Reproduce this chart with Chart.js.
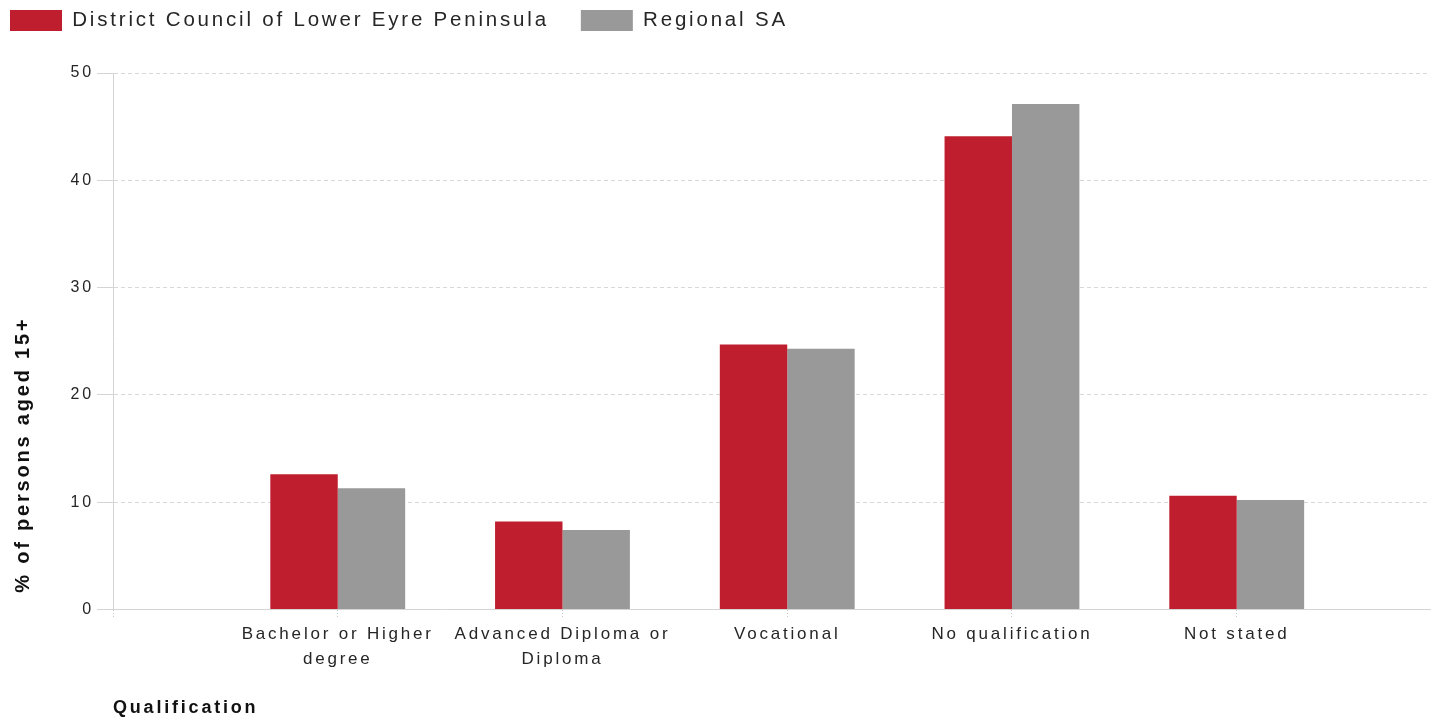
<!DOCTYPE html>
<html>
<head>
<meta charset="utf-8">
<script src="https://cdn.jsdelivr.net/npm/chart.js@4"></script>
<style>
  html, body { margin: 0; padding: 0; background: #fff; }
  #wrap { width: 1441px; height: 722px; position: relative; }
</style>
</head>
<body>
<div id="wrap"><canvas id="qualChart"></canvas></div>
<script>
// categories sit at positions 1..5 on the x axis, position 0 is left empty
const categories = [
    ['Bachelor or Higher', 'degree'],
    ['Advanced Diploma or', 'Diploma'],
    'Vocational',
    'No qualification',
    'Not stated'
];
const lowerEyre = [12.6, 8.2, 24.7, 44.1, 10.6];
const regionalSA = [11.3, 7.4, 24.3, 47.1, 10.2];
const yTicks = [0, 10, 20, 30, 40, 50];

const textColor = '#262626';
const fontFamily = 'Arial, "Liberation Sans", sans-serif';

function toPoints(values) {
    return values.map((v, i) => ({ x: i + 1, y: v }));
}

// the reference text is drawn with wide letter spacing
const spacingPlugin = {
    id: 'spacing',
    beforeUpdate(chart) { chart.ctx.letterSpacing = '2.8px'; },
    beforeLayout(chart) { chart.ctx.letterSpacing = '2.8px'; },
    beforeDraw(chart) { chart.ctx.letterSpacing = '2.8px'; }
};

const ctx = document.getElementById('qualChart').getContext('2d');
const qualChart = new Chart(ctx, {
    type: 'bar',
    data: {
        datasets: [{
            label: 'District Council of Lower Eyre Peninsula',
            data: toPoints(lowerEyre),
            backgroundColor: '#BE1E2D',
            categoryPercentage: 0.6,
            barPercentage: 1.0
        }, {
            label: 'Regional SA',
            data: toPoints(regionalSA),
            backgroundColor: '#999999',
            categoryPercentage: 0.6,
            barPercentage: 1.0
        }]
    },
    options: {
        responsive: true,
        maintainAspectRatio: false,
        animation: false,
        layout: { padding: { left: -22, top: -22, right: 11, bottom: 0 } },
        plugins: {
            legend: {
                position: 'top',
                align: 'start',
                labels: {
                    boxWidth: 52,
                    boxHeight: 21,
                    padding: 32,
                    color: textColor,
                    font: { family: fontFamily, size: 20.5 }
                }
            },
            // empty title used as spacer between legend and plot
            title: {
                display: true,
                text: '',
                position: 'top',
                weight: 500,
                padding: { top: 0, bottom: 20 },
                font: { size: 10 }
            },
            tooltip: { enabled: false }
        },
        scales: {
            x: {
                type: 'linear',
                offset: false,
                min: 0,
                max: 5.86,
                grid: {
                    offset: false,
                    drawOnChartArea: false,
                    tickLength: 8,
                    tickColor: '#c8c8c8',
                    tickBorderDash: [1, 2]
                },
                border: { color: '#d4d4d4', width: 1 },
                ticks: {
                    stepSize: 1,
                    includeBounds: false,
                    autoSkip: false,
                    maxRotation: 0,
                    padding: 4,
                    color: textColor,
                    font: { family: fontFamily, size: 17, lineHeight: 1.47 },
                    callback: function(value) {
                        if (Number.isInteger(value) && value >= 1 && value <= categories.length) {
                            return categories[value - 1];
                        }
                        return '';
                    }
                },
                title: {
                    display: true,
                    text: 'Qualification',
                    align: 'start',
                    color: '#111111',
                    font: { family: fontFamily, size: 18, weight: 'bold' },
                    padding: { top: 22, bottom: 3 }
                }
            },
            y: {
                min: 0,
                max: 50,
                afterFit: function(scale) { scale.width = 135; },
                afterBuildTicks: function(scale) {
                    scale.ticks = yTicks.map(v => ({ value: v }));
                },
                grid: {
                    color: '#d8d8d8',
                    tickLength: 16,
                    tickColor: '#d4d4d4',
                    tickBorderDash: []
                },
                border: { color: '#d4d4d4', width: 1, dash: [4, 3] },
                ticks: {
                    padding: 3,
                    color: textColor,
                    font: { family: fontFamily, size: 16 }
                },
                title: {
                    display: true,
                    text: '  % of persons aged 15+',
                    align: 'start',
                    color: '#111111',
                    font: { family: fontFamily, size: 20, weight: 'bold' },
                    padding: { top: 33, bottom: 0 }
                }
            }
        }
    },
    plugins: [spacingPlugin]
});
</script>
</body>
</html>
